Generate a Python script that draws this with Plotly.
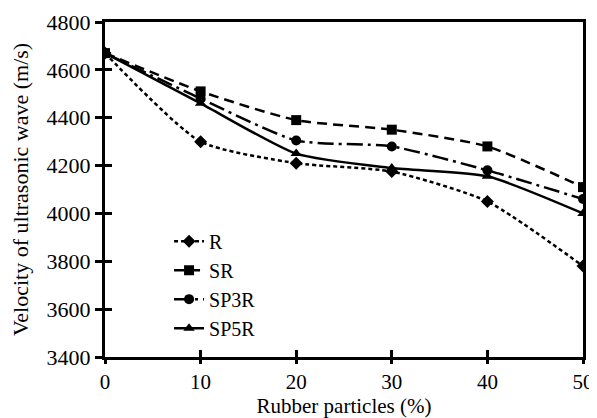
import plotly.graph_objects as go

x_vals = [0, 10, 20, 30, 40, 50]
R = [4670, 4300, 4210, 4175, 4050, 3780]
SR = [4670, 4510, 4390, 4350, 4280, 4110]
SP3R = [4670, 4480, 4305, 4280, 4180, 4060]
SP5R = [4670, 4460, 4250, 4190, 4155, 4000]

series = [
    ("R", R, "diamond", "4px,3px", 10),
    ("SR", SR, "square", "10px,6px", 10),
    ("SP3R", SP3R, "circle", "16px,5px,3px,5px", 10),
    ("SP5R", SP5R, "triangle-up", "solid", 10),
]

fig = go.Figure()
for name, ys, sym, dash, ms in series:
    fig.add_trace(go.Scatter(
        x=x_vals, y=ys, name=name, mode="lines+markers",
        line=dict(color="black", width=2.5, dash=dash, shape="spline", smoothing=0.6),
        marker=dict(symbol=sym, size=ms, color="black"),
    ))

font = dict(family="Liberation Serif", size=22, color="black")
xfont = dict(family="Liberation Serif", size=21, color="black")
fig.update_layout(
    width=589, height=410,
    margin=dict(l=97, r=14, t=14, b=61, autoexpand=False),
    paper_bgcolor="white", plot_bgcolor="white",
    font=font,
    showlegend=True,
    legend=dict(x=0.134, y=0.404, xanchor="left", yanchor="top",
                bgcolor="rgba(0,0,0,0)", font=dict(family="Liberation Serif", size=20, color="black"),
                tracegroupgap=0),
    xaxis=dict(range=[0, 50], tickvals=x_vals, ticks="outside", ticklen=4, tickwidth=2.5,
               tickcolor="black", showline=True, linecolor="black", linewidth=3,
               mirror=True, showgrid=False, zeroline=False, automargin=False,
               tickfont=xfont,
               title=dict(text="Rubber particles (%)", font=xfont, standoff=4)),
    yaxis=dict(range=[3400, 4800], dtick=200, ticks="outside", ticklen=7, tickwidth=2.5,
               tickcolor="black", showline=True, linecolor="black", linewidth=3,
               mirror=True, showgrid=False, zeroline=False, automargin=False,
               title=dict(text="Velocity of ultrasonic wave (m/s)", font=font, standoff=22)),
    xaxis2=dict(range=[0, 50], tickvals=x_vals, ticks="inside", ticklen=7, tickwidth=2.5,
                tickcolor="black", overlaying="x", side="bottom", showticklabels=False,
                showgrid=False, zeroline=False, showline=False, anchor="y", automargin=False),
    yaxis2=dict(range=[3400, 4800], dtick=200, ticks="inside", ticklen=7, tickwidth=2.5,
                tickcolor="black", overlaying="y", side="left", showticklabels=False,
                showgrid=False, zeroline=False, showline=False, anchor="x", automargin=False),
)
fig.add_trace(go.Scatter(x=[None], y=[None], xaxis="x2", yaxis="y2", showlegend=False,
                         hoverinfo="skip"))
fig.write_html("out.html")
